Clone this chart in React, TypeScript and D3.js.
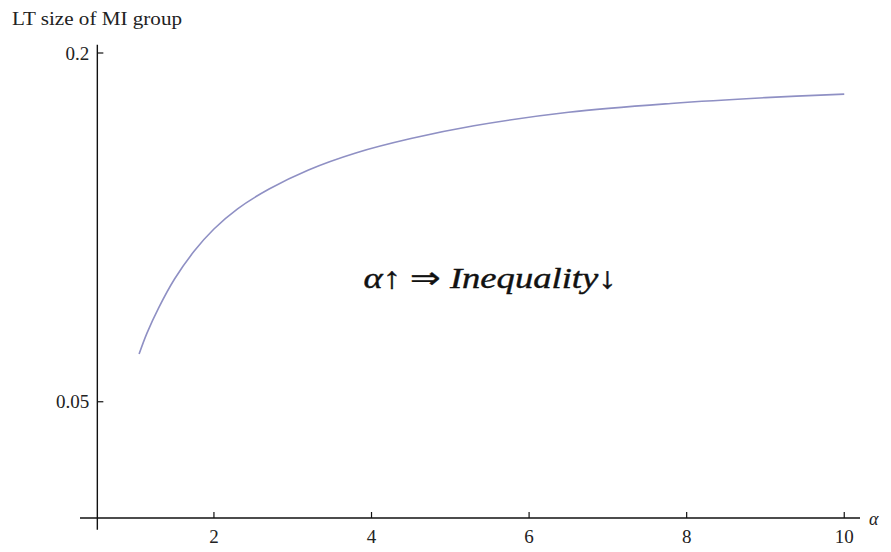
import React from 'react';
import * as d3 from 'd3';

// values
const alphaValues = [1.05, 1.15, 1.3, 1.5, 1.75, 2.0, 2.3, 2.7, 3.2, 3.8, 4.5, 5.3, 6.5, 7.8, 9.0, 10.0];
const ltSize = [0.0705, 0.0795, 0.0905, 0.1028, 0.1148, 0.1243, 0.133, 0.1415, 0.1497, 0.157, 0.1632, 0.1687, 0.1745, 0.1783, 0.1808, 0.1823];

const xTicks = [2, 4, 6, 8, 10];
const yTicks = [0.05, 0.2];
const yTickLabels = ['0.05', '0.2'];

const W = 891;
const H = 552;
const font = '"Liberation Serif", "Times New Roman", serif';

const App = () => {
  const x = d3.scaleLinear().domain([0.3, 10.2]).range([80, 860]);
  const y = d3.scaleLinear().domain([0, 0.2]).range([518, 53]);

  const x0 = x(0.52);
  const y0 = y(0);

  const points = alphaValues.map((a, i) => [a, ltSize[i]] as [number, number]);
  const line = d3.line<[number, number]>()
    .x(d => x(d[0]))
    .y(d => y(d[1]))
    .curve(d3.curveCatmullRom.alpha(0.5));

  return (
    <svg width={W} height={H} style={{ position: 'absolute', left: 0, top: 0, background: '#fff' }}>
      {/* axes */}
      <line x1={x(0.3)} x2={x(10.2)} y1={y0} y2={y0} stroke="#111" strokeWidth={1.4} />
      <line x1={x0} x2={x0} y1={y(-0.005)} y2={y(0.2035)} stroke="#111" strokeWidth={1.4} />

      {xTicks.map(t => (
        <g key={t}>
          <line x1={x(t)} x2={x(t)} y1={y0} y2={y0 - 6} stroke="#111" strokeWidth={1.2} />
          <text x={x(t)} y={y0 + 25} textAnchor="middle" fontFamily={font} fontSize={19} fill="#222">{t}</text>
        </g>
      ))}
      {yTicks.map((t, i) => (
        <g key={t}>
          <line x1={x0} x2={x0 + 6} y1={y(t)} y2={y(t)} stroke="#111" strokeWidth={1.2} />
          <text x={x0 - 8} y={y(t)} dy="0.35em" textAnchor="end" fontFamily={font} fontSize={19} fill="#222">{yTickLabels[i]}</text>
        </g>
      ))}

      {/* axis labels */}
      <text x={12} y={25} fontFamily={font} fontSize={18} fill="#222" textLength={170} lengthAdjust="spacingAndGlyphs">LT size of MI group</text>
      <text x={869} y={525} fontFamily={font} fontSize={18} fontStyle="italic" fill="#222">α</text>

      {/* curve */}
      <path d={line(points) ?? ''} fill="none" stroke="#8f90c4" strokeWidth={1.6} />

      {/* annotation */}
      <g transform="translate(490,288) scale(1.22,1)">
        <text x={0} y={0} textAnchor="middle" fontFamily={font} fontSize={30} fill="#111" stroke="#111" strokeWidth={0.4}>
          <tspan fontStyle="italic">α</tspan>
          <tspan>↑ ⇒ </tspan>
          <tspan fontStyle="italic">Inequality</tspan>
          <tspan>↓</tspan>
        </text>
      </g>
    </svg>
  );
};

export default App;
